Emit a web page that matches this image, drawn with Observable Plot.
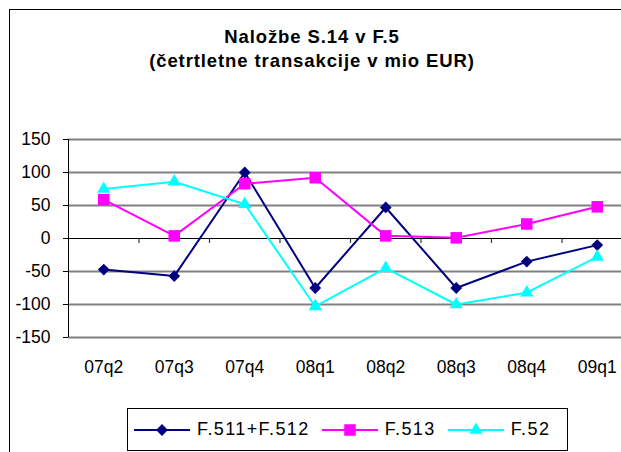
<!DOCTYPE html>
<html>
<head>
<meta charset="utf-8">
<script src="https://cdn.jsdelivr.net/npm/d3@7"></script>
<script src="https://cdn.jsdelivr.net/npm/@observablehq/plot@0.6"></script>
<style>
  html, body { margin: 0; padding: 0; background: #fff; overflow: hidden; width: 621px; height: 452px; }
  #wrap { position: relative; width: 621px; height: 452px; overflow: hidden; font-family: "Liberation Sans", Arial, sans-serif; }
  #frame { position: absolute; left: 9px; top: 9px; width: 700px; height: 500px; border-left: 1px solid #000; border-top: 1px solid #000; }
  #title { position: absolute; left: 0; top: 25px; width: 624px; text-align: center; font-weight: bold; font-size: 18.5px; line-height: 24px; letter-spacing: 0.9px; color: #000; }
  #chart { position: absolute; left: 0; top: 0; }
  #legend { position: absolute; left: 127px; top: 408px; width: 441px; height: 43px; border: 1px solid #000; background: #fff; display: flex; align-items: center; box-sizing: border-box; padding-left: 6px; }
  .item { display: flex; align-items: center; margin-right: 12px; }
  .item span { font-size: 18px; letter-spacing: 1.4px; margin-left: 7px; color: #000; }
</style>
</head>
<body>
<div id="wrap">
  <div id="frame"></div>
  <div id="chart"></div>
  <div id="title">Naložbe S.14 v F.5<br>(četrtletne transakcije v mio EUR)</div>
  <div id="legend"></div>
</div>
<script>
const categories = ["07q2", "07q3", "07q4", "08q1", "08q2", "08q3", "08q4", "09q1"];
const seriesNames = ["F.511+F.512", "F.513", "F.52"];
const f511f512 = [-47, -57, 100, -75, 47, -75, -35, -10];
const f513 = [59, 4, 83, 92, 4, 1, 22, 48];
const f52 = [75, 86, 52, -103, -45, -100, -82, -28];
const yTicks = [-150, -100, -50, 0, 50, 100, 150];

const colors = ["#000080", "#FF00FF", "#00FFFF"];
const symbols = ["diamond2", "square", "triangle"];
const radii = [5.3, 6.5, 4.9];
const seriesValues = [f511f512, f513, f52];

const rows = [];
seriesValues.forEach((vals, s) => vals.forEach((v, i) => rows.push({series: seriesNames[s], s, i, value: v})));

const bounds = categories.slice(1).map((_, k) => k + 0.5);
const gridVals = yTicks.filter(d => d !== 0);

const marks = [
  Plot.ruleY(gridVals, {y: d => d, stroke: "#808080", strokeWidth: 2}),
  Plot.ruleY([0], {y: d => d, stroke: "#000", strokeWidth: 1}),
  Plot.ruleX(bounds, {x: d => d, y1: () => 0, y2: () => -7.5, stroke: "#333", strokeWidth: 1.2}),
  Plot.ruleX([-0.5], {x: d => d, stroke: "#000", strokeWidth: 1}),
  Plot.axisY({ticks: yTicks, tickSize: 5, tickPadding: 13, tickFormat: d => String(d), label: null}),
  Plot.axisX({ticks: categories.map((_, i) => i), tickSize: 0, tickPadding: 23, tickFormat: i => categories[i], label: null})
];
seriesNames.forEach((name, s) => {
  const data = rows.filter(r => r.s === s);
  marks.push(Plot.line(data, {x: "i", y: "value", stroke: colors[s], strokeWidth: 2}));
  marks.push(Plot.dot(data, {x: "i", y: "value", symbol: symbols[s], r: radii[s], fill: colors[s], stroke: "none"}));
});

const chart = Plot.plot({
  width: 640,
  height: 452,
  marginLeft: 68,
  marginRight: 8,
  marginTop: 139,
  marginBottom: 115,
  style: {fontFamily: "'Liberation Sans', Arial, sans-serif", fontSize: "17.5px", maxWidth: "none", background: "transparent", color: "#000"},
  x: {domain: [-0.5, categories.length - 0.5], axis: null},
  y: {domain: [-150, 150], axis: null},
  marks
});
document.getElementById("chart").appendChild(chart);

// legend
const legend = document.getElementById("legend");
const symMap = {diamond2: d3.symbolDiamond2, square: d3.symbolSquare, triangle: d3.symbolTriangle};
seriesNames.forEach((name, s) => {
  const item = document.createElement("div");
  item.className = "item";
  const svg = d3.create("svg").attr("width", 56).attr("height", 20);
  svg.append("line").attr("x1", 0).attr("x2", 56).attr("y1", 10).attr("y2", 10).attr("stroke", colors[s]).attr("stroke-width", 2);
  svg.append("path").attr("transform", "translate(28,10)")
    .attr("d", d3.symbol(symMap[symbols[s]], radii[s] * radii[s] * Math.PI)())
    .attr("fill", colors[s]);
  item.appendChild(svg.node());
  const span = document.createElement("span");
  span.textContent = name;
  item.appendChild(span);
  legend.appendChild(item);
});
</script>
</body>
</html>
